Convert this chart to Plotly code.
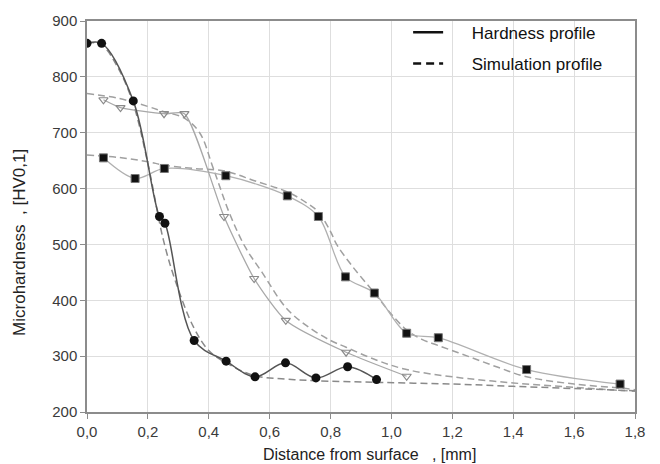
import plotly.graph_objects as go

# Measured hardness profiles
circ_x = [0.0, 0.048, 0.152, 0.238, 0.256, 0.352, 0.457, 0.552, 0.652, 0.752, 0.856, 0.951]
circ_y = [860, 860, 757, 550, 538, 328, 291, 263, 288, 261, 281, 258]

tri_x = [0.054, 0.11, 0.253, 0.32, 0.45, 0.549, 0.653, 0.851, 1.05]
tri_y = [759, 745, 734, 734, 550, 439, 364, 307, 264]

sq_x = [0.054, 0.158, 0.254, 0.456, 0.658, 0.76, 0.849, 0.944, 1.05, 1.154, 1.444, 1.751]
sq_y = [655, 618, 636, 623, 587, 550, 442, 413, 341, 333, 276, 250]

# Simulation profiles
sim_c_x = [0.0, 0.05, 0.1, 0.15, 0.2, 0.25, 0.29, 0.35, 0.4, 0.46, 0.55, 0.65, 0.75, 0.96, 1.2, 1.4, 1.6, 1.8]
sim_c_y = [862, 856, 818, 755, 645, 510, 435, 352, 310, 287, 265, 259, 256, 253, 250, 246, 242, 238]

sim_t_x = [0.0, 0.1, 0.2, 0.25, 0.32, 0.37, 0.415, 0.47, 0.52, 0.575, 0.653, 0.72, 0.8, 0.851, 0.95, 1.05, 1.2, 1.4, 1.6, 1.8]
sim_t_y = [770, 762, 747, 738, 726, 700, 636, 553, 495, 450, 387, 355, 328, 316, 293, 276, 263, 252, 244, 237]

sim_s_x = [0.0, 0.1, 0.2, 0.254, 0.35, 0.456, 0.55, 0.658, 0.72, 0.76, 0.8, 0.82, 0.87, 0.944, 1.0, 1.05, 1.1, 1.154, 1.25, 1.35, 1.444, 1.6, 1.75, 1.8]
sim_s_y = [660, 656, 648, 642, 636, 631, 614, 594, 575, 558, 523, 500, 462, 413, 375, 347, 330, 319, 300, 280, 263, 250, 243, 240]

x_ticks = [0.0, 0.2, 0.4, 0.6, 0.8, 1.0, 1.2, 1.4, 1.6, 1.8]
y_ticks = [200, 300, 400, 500, 600, 700, 800, 900]

FONT = "Liberation Sans, Arial, sans-serif"
DASH = "7px,4px"

fig = go.Figure()

# simulation (dashed)
for sx, sy, col in [(sim_s_x, sim_s_y, "#a0a0a0"), (sim_t_x, sim_t_y, "#a0a0a0"), (sim_c_x, sim_c_y, "#8a8a8a")]:
    fig.add_trace(go.Scatter(x=sx, y=sy, mode="lines", showlegend=False, hoverinfo="skip",
                             line=dict(color=col, width=1.5, dash=DASH, shape="spline", smoothing=1)))

# hardness (solid + markers)
fig.add_trace(go.Scatter(x=sq_x, y=sq_y, mode="lines+markers", showlegend=False,
                         line=dict(color="#b0b0b0", width=1.3, shape="spline", smoothing=0.9),
                         marker=dict(symbol="square", size=8, color="#111111", line=dict(color="#777777", width=1))))
fig.add_trace(go.Scatter(x=tri_x, y=tri_y, mode="lines+markers", showlegend=False,
                         line=dict(color="#a8a8a8", width=1.3, shape="spline", smoothing=0.6),
                         marker=dict(symbol="triangle-down-open", size=8, color="#8a8a8a", line=dict(width=1.2))))
fig.add_trace(go.Scatter(x=circ_x, y=circ_y, mode="lines+markers", showlegend=False,
                         line=dict(color="#555555", width=1.5, shape="spline", smoothing=1),
                         marker=dict(symbol="circle", size=9, color="#111111")))

# legend entries
nb = "\u00a0" * 5
fig.add_trace(go.Scatter(x=[None], y=[None], mode="lines", name=nb + "Hardness profile",
                         legendgroup="a", line=dict(color="#111111", width=2.5)))
fig.add_trace(go.Scatter(x=[None], y=[None], mode="lines", name=nb + "Simulation profile",
                         legendgroup="b", line=dict(color="#111111", width=2.5, dash="8px,5px")))

axis_common = dict(showgrid=True, gridcolor="#dedede", gridwidth=1, zeroline=False,
                   showline=True, linecolor="#8c8c8c", linewidth=1.5, mirror=True,
                   ticks="outside", ticklen=5, tickcolor="#8c8c8c",
                   tickfont=dict(family=FONT, size=15, color="#3a3a3a"))

fig.update_layout(
    width=660, height=464,
    margin=dict(l=87, r=25, t=18, b=52),
    paper_bgcolor="white", plot_bgcolor="white",
    separators=",.",
    xaxis=dict(range=[0, 1.8], tickvals=x_ticks, tickformat=".1f", **axis_common),
    yaxis=dict(range=[200, 900], tickvals=y_ticks, tickformat="d", **axis_common),
    legend=dict(x=0.586, y=1.016, xanchor="left", yanchor="top", bgcolor="rgba(0,0,0,0)",
                font=dict(family=FONT, size=17, color="#111111"), itemwidth=30,
                traceorder="grouped", tracegroupgap=6),
    showlegend=True,
    annotations=[
        dict(text="Distance from surface\u00a0\u00a0\u00a0, [mm]", xref="paper", yref="paper",
             x=0.516, y=-0.109, xanchor="center", yanchor="middle", showarrow=False,
             font=dict(family=FONT, size=16, color="#222222")),
        dict(text="Microhardness\u00a0\u00a0, [HV0,1]", xref="paper", yref="paper",
             x=-0.1223, y=0.435, xanchor="center", yanchor="middle", showarrow=False, textangle=-90,
             font=dict(family=FONT, size=17, color="#222222")),
    ],
)

fig.write_html("out.html")
